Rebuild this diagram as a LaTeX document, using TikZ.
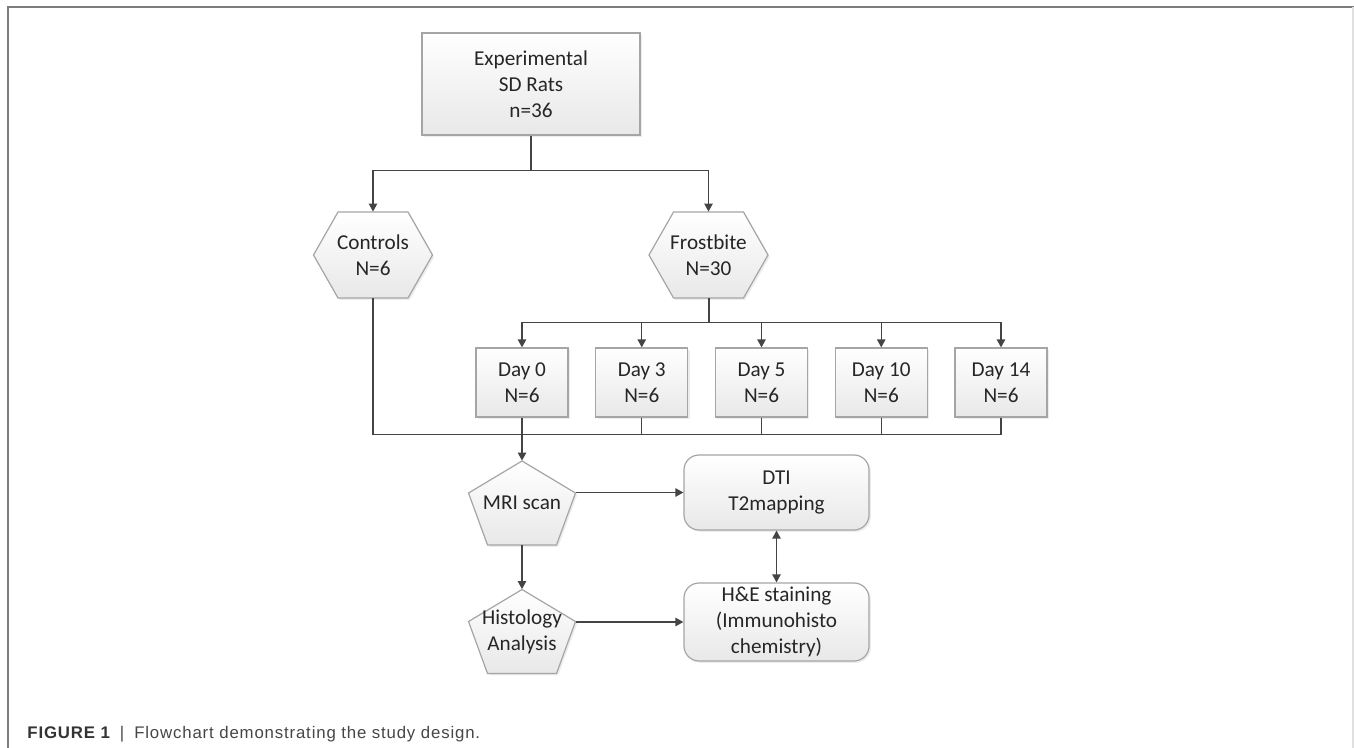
\documentclass[tikz,border=0pt]{standalone}
\usepackage{fontspec}
\setmainfont{Carlito}
\newfontfamily\captionfont[LetterSpace=5]{Liberation Sans}
\usepackage{xcolor}
\usepackage{tikz}
\usetikzlibrary{arrows.meta, positioning, calc, shadows}
\definecolor{linegray}{RGB}{68,68,68}
\definecolor{boxgray}{RGB}{165,165,165}
\definecolor{fillgray}{RGB}{232,232,232}
\definecolor{framegray}{RGB}{125,125,125}
\definecolor{captiongray}{RGB}{70,70,70}

\tikzset{
    boxfill/.style={draw=boxgray, line width=0.6pt, top color=white, bottom color=fillgray,
        drop shadow={shadow xshift=0.9pt, shadow yshift=-0.9pt, opacity=0.15}},
    boxtext/.style={align=center, inner sep=0pt, text=black!85,
        font=\fontsize{10.6}{13}\selectfont},
    daybox/.style={boxfill, boxtext, minimum width=46pt, minimum height=34.5pt},
    roundbox/.style={boxfill, boxtext, rounded corners=7.5pt, minimum width=92.5pt},
    link/.style={draw=linegray, line width=0.65pt},
    arrow/.style={link, -{Triangle[length=4pt, width=4.2pt]}}
}

\begin{document}
\begin{tikzpicture}[x=0.5pt, y=-0.5pt]
    \useasboundingbox (0,0) rectangle (1354,748);

    % Frame
    \draw[framegray, line width=1pt] (8,748) -- (8,7) -- (1354,7);
    \draw[black!12, line width=0.6pt] (1353,7) -- (1353,748);

    % Start box
    \node[daybox, minimum width=109pt, minimum height=51pt] (rats) at (531,84)
        {Experimental\\SD Rats\\n=36};

    % Hexagons
    \foreach \cx in {373,708.5} {
        \path[boxfill] (\cx-59.5,255) -- (\cx-35,212) -- (\cx+35,212)
            -- (\cx+59.5,255) -- (\cx+35,298) -- (\cx-35,298) -- cycle;
    }
    \node[boxtext, minimum width=59.5pt, minimum height=43pt] (ctrl) at (373,255) {Controls\\N=6};
    \node[boxtext, minimum width=59.5pt, minimum height=43pt] (frost) at (708.5,255) {Frostbite\\N=30};

    % Day groups
    \foreach \i/\day in {0/0,1/3,2/5,3/10,4/14} {
        \node[daybox] (day\i) at (522+\i*119.75,382.5) {Day \day\\N=6};
    }

    % Pentagons
    \foreach \cy in {503,631.5} {
        \path[boxfill] (522,\cy-42) -- (575.5,\cy-10) -- (556.5,\cy+42)
            -- (487.5,\cy+42) -- (468.5,\cy-10) -- cycle;
    }
    \node[boxtext, minimum width=53.5pt, minimum height=42pt] (mri) at (522,503) {MRI scan};
    \node[boxtext, minimum width=53.5pt, minimum height=42pt] (histo) at (522,631.5) {Histology\\Analysis};

    % Result boxes
    \node[roundbox, minimum height=37.5pt] (dti) at (776.5,492.5) {DTI\\T2mapping};
    \node[roundbox, minimum height=39pt] (he) at (776.5,622) {H\&E staining\\(Immunohisto\\chemistry)};

    % Connectors
    \draw[link] (rats.south) -- ++(0,35) coordinate (split);
    \draw[arrow] (split) -| (ctrl.north);
    \draw[arrow] (split) -| (frost.north);

    \draw[link, line width=1pt] (frost.south) -- ++(0,24) coordinate (fork);
    \foreach \i in {0,...,4} {
        \draw[arrow] (fork) -| (day\i.north);
    }

    \draw[link] (ctrl.south) -- ++(0,136) coordinate (join) -- (join -| day4.south) -- (day4.south);
    \foreach \i in {1,2,3} {
        \draw[link] (day\i.south) -- (day\i.south |- join);
    }
    \draw[arrow] (day0.south) -- (mri.north);
    \draw[arrow] (mri.south) -- (histo.north);
    \draw[arrow] (mri.east |- dti.west) -- (dti.west);
    \draw[arrow] (histo.east |- he.west) -- (he.west);
    \draw[link, {Triangle[length=4pt, width=4.2pt]}-{Triangle[length=4pt, width=4.2pt]}] (dti.south) -- (he.north);

    % Caption
    \node[anchor=base west, inner sep=0pt, text=captiongray, font=\captionfont\fontsize{8.4}{10}\selectfont] (caption) at (27,738)
        {\textbf{\color{black!80}FIGURE 1}\hspace{5pt}|\hspace{5pt}Flowchart demonstrating the study design.};
\end{tikzpicture}
\end{document}
